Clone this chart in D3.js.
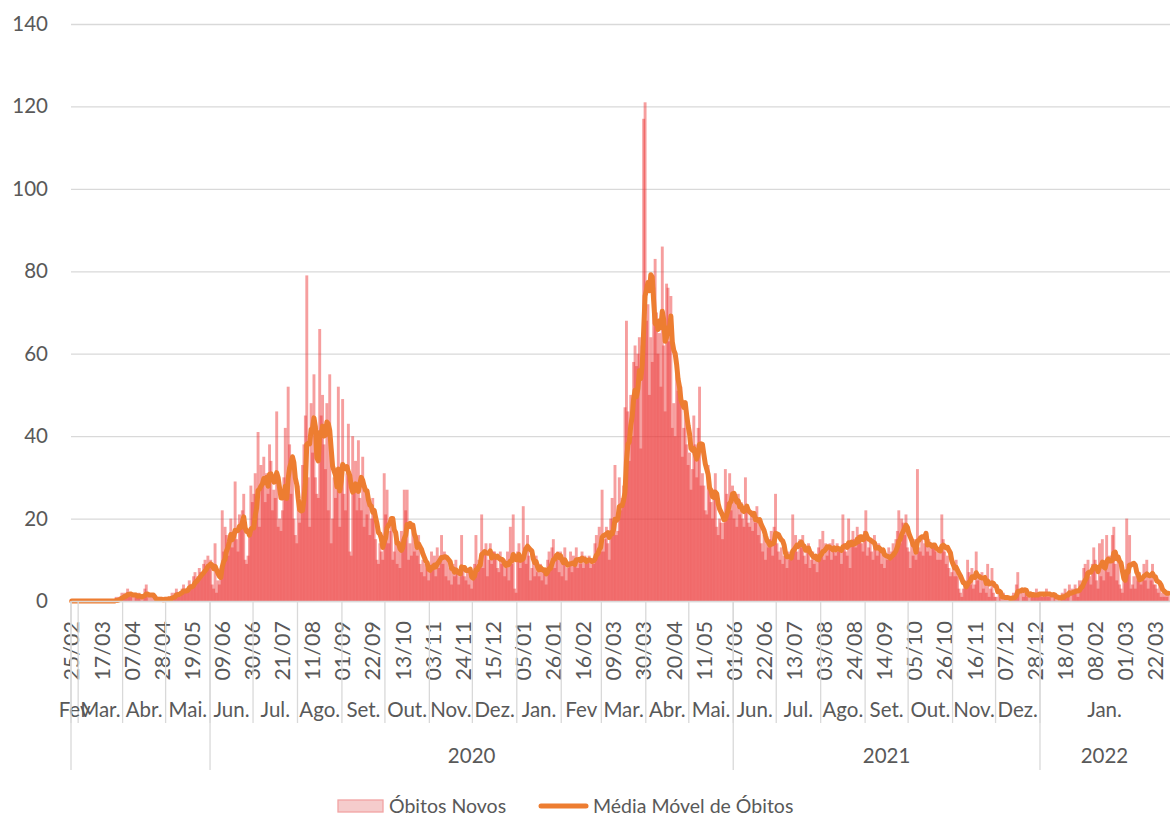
<!DOCTYPE html>
<html lang="pt">
<head>
<meta charset="UTF-8">
<title>Óbitos Novos e Média Móvel de Óbitos</title>
<script src="https://cdn.jsdelivr.net/npm/d3@7"></script>
<style>
  body { margin: 0; background: #fff; }
  svg text { font-family: Lato, "Open Sans", sans-serif; fill: #595959; }
</style>
</head>
<body>
<svg id="chart" width="1170" height="817"></svg>
<script>
// dados diários a partir de 25/02/2020
const inicio = "2020-02-25";
const obitosNovos = [
  0,0,0,0,0,                                                                      // fev/20
  0,0,0,0,0,0,0,0,0,0,0,0,0,0,0,0,0,0,0,0,0,0,0,0,0,0,1,0,1,1,2,                  // mar/20
  1,2,1,3,1,2,1,0,2,1,1,2,1,0,1,3,4,1,0,1,0,1,0,0,1,0,1,0,0,1,                    // abr/20
  0,1,1,0,2,1,2,3,2,1,2,3,4,2,3,3,5,4,3,6,7,5,6,8,7,6,9,10,8,11,9,                // mai/20
  10,4,3,14,2,5,4,8,22,12,18,16,11,14,20,13,17,29,15,12,21,18,22,26,10,9,11,16,28,24,
  26,31,22,41,18,33,28,35,24,31,26,38,34,22,27,25,46,18,20,17,22,30,42,25,52,38,26,32,20,16,14,
  28,19,24,33,38,45,79,30,18,48,36,55,30,26,25,66,45,50,38,32,48,22,55,14,20,30,25,28,52,18,30,
  49,26,22,31,43,12,11,40,28,34,22,39,25,22,35,18,27,21,24,16,20,25,21,15,10,9,14,12,10,31,
  21,27,14,17,20,10,12,16,9,14,8,17,15,27,22,27,10,14,11,18,12,15,11,16,9,7,10,6,9,8,5,
  7,12,9,11,6,13,8,11,16,9,12,6,11,5,8,4,9,6,10,7,4,6,16,8,6,5,7,4,8,3,
  6,9,16,7,10,10,21,8,12,14,6,10,14,9,12,12,11,8,7,12,9,10,6,8,12,5,18,9,21,3,2,  // dez/20
  12,14,8,10,23,13,9,16,11,5,8,10,6,11,7,6,9,5,8,7,4,10,12,9,13,15,8,10,12,7,12,  // jan/21
  6,10,13,5,8,9,12,7,11,10,13,8,10,9,12,8,11,9,10,11,8,10,9,14,16,12,18,12,
  27,12,15,18,14,10,20,25,19,33,16,17,30,22,25,28,47,68,46,34,50,40,58,62,57,60,64,37,62,117,121,
  68,72,50,64,58,76,83,70,60,65,52,86,62,46,77,76,63,74,42,48,40,59,51,50,52,35,42,48,38,33,
  36,27,32,45,38,30,42,52,28,31,28,22,21,33,29,24,20,27,31,18,16,20,19,15,19,32,26,24,31,22,28,
  20,25,18,26,21,24,20,18,30,22,19,18,22,17,21,19,23,16,20,14,12,16,10,15,13,15,17,11,18,26,
  14,12,10,13,9,11,12,8,12,10,11,21,13,16,12,10,15,13,16,11,9,12,14,8,10,12,9,11,7,13,15,
  12,17,10,14,11,13,14,10,15,13,11,14,12,12,9,21,14,12,11,20,8,14,17,15,13,18,16,16,14,12,17,
  22,11,13,15,12,10,16,13,11,14,12,9,12,8,11,10,13,10,12,14,11,15,17,22,14,20,19,16,21,13,
  12,8,14,11,15,10,32,13,12,16,11,14,17,12,15,11,13,13,14,12,10,13,10,21,15,12,9,11,8,6,7,
  9,6,10,6,3,2,1,3,5,4,10,7,4,8,3,4,12,5,6,2,7,3,5,2,9,1,3,8,2,1,
  1,0,2,1,0,2,0,1,0,1,0,1,2,1,4,7,2,0,3,1,2,3,1,0,2,1,2,1,3,1,2,                  // dez/21
  2,1,1,2,3,1,2,1,0,2,1,0,1,0,1,2,1,3,2,1,4,0,3,2,4,3,1,5,4,5,8,                  // jan/22
  9,7,10,6,4,9,13,10,5,3,14,6,15,5,8,16,7,11,6,16,18,9,5,10,4,3,2,5,
  6,20,9,16,3,4,6,3,8,5,7,4,6,9,5,10,3,6,5,9,4,4,3,2,4,1,2,1,2,1,2                 // mar/22
];

// rótulos do eixo (como na planilha original)
const mesRotulos = ["Fev","Mar.","Abr.","Mai.","Jun.","Jul.","Ago.","Set.","Out.","Nov.","Dez.",
                    "Jan.","Fev","Mar.","Abr.","Mai.","Jun.","Jul.","Ago.","Set.","Out.","Nov.","Dez.","Jan."];
const mesInicio = ["2020-02-25","2020-03-01","2020-04-01","2020-05-01","2020-06-01","2020-07-01",
                   "2020-08-01","2020-09-01","2020-10-01","2020-11-01","2020-12-01","2021-01-01",
                   "2021-02-01","2021-03-01","2021-04-01","2021-05-01","2021-06-01","2021-07-01",
                   "2021-08-01","2021-09-01","2021-10-01","2021-11-01","2021-12-01","2022-01-01"];
const anoRotulos = ["", "2020", "2021", "2022"];
const anoInicio = ["2020-02-25", "2020-06-01", "2021-06-01", "2022-01-01"];
const yTicks = [0, 20, 40, 60, 80, 100, 120, 140];
const series = ["Óbitos Novos", "Média Móvel de Óbitos"];

const parse = d3.timeParse("%Y-%m-%d");
const t0 = parse(inicio);
const datas = obitosNovos.map((d, i) => d3.timeDay.offset(t0, i));
const idx = s => d3.timeDay.count(t0, parse(s));
const fmt = d3.timeFormat("%d/%m");

// média móvel de 7 dias
const mediaMovel = obitosNovos.map((d, i) => d3.mean(obitosNovos.slice(Math.max(0, i - 6), i + 1)));

const svg = d3.select("#chart");
const mLeft = 71, mRight = 1169, mTop = 24, mBottom = 601;

const x = d3.scaleBand().domain(d3.range(obitosNovos.length)).range([mLeft, mRight]);
const y = d3.scaleLinear().domain([0, 140]).range([mBottom, mTop]);
const bw = x.bandwidth();

// grade + eixo y
const gy = svg.append("g").attr("transform", `translate(${mLeft},0)`)
  .call(d3.axisLeft(y).tickValues(yTicks).tickSize(-(mRight - mLeft + 1)).tickPadding(23));
gy.select(".domain").remove();
gy.selectAll("line").attr("stroke", "#d9d9d9").attr("stroke-width", 1.3);
gy.selectAll("text").attr("font-size", 20.5).attr("fill", "#595959");

// barras
svg.append("g").selectAll("rect").data(obitosNovos).join("rect")
  .attr("x", (d, i) => x(i) + bw / 2 - 1.45)
  .attr("width", 2.9)
  .attr("y", d => y(d))
  .attr("height", d => y(0) - y(d))
  .attr("fill", "#ec3434")
  .attr("fill-opacity", 0.48);

// média móvel
svg.append("path").datum(mediaMovel)
  .attr("d", d3.line().x((d, i) => x(i) + bw / 2).y(d => y(d)))
  .attr("fill", "none")
  .attr("stroke", "#ED7D31")
  .attr("stroke-width", 5)
  .attr("stroke-linejoin", "round")
  .attr("stroke-linecap", "round");

// eixo x: datas a cada 21 dias
const gx = svg.append("g").attr("transform", `translate(0,${mBottom})`)
  .call(d3.axisBottom(x).tickValues(d3.range(0, obitosNovos.length, 21))
    .tickFormat(i => fmt(datas[i])).tickSize(0).tickSizeOuter(0));
gx.select(".domain").attr("stroke", "#d9d9d9").attr("stroke-width", 1.3);
gx.selectAll("text")
  .attr("transform", "rotate(-90)")
  .attr("text-anchor", "end")
  .attr("x", -20).attr("y", 0).attr("dy", "0.36em")
  .attr("font-size", 21.5);

// separadores e rótulos de mês
const mesIdx = mesInicio.map(idx);
const linhaX = i => x(i) !== undefined ? x(i) : mRight;
svg.append("g").selectAll("line").data(mesIdx).join("line")
  .attr("x1", linhaX).attr("x2", linhaX)
  .attr("y1", mBottom).attr("y2", 723)
  .attr("stroke", "#d9d9d9").attr("stroke-width", 1.3);
svg.append("g").selectAll("text").data(mesRotulos).join("text")
  .attr("x", (d, k) => (linhaX(mesIdx[k]) + (k + 1 < mesIdx.length ? linhaX(mesIdx[k + 1]) : mRight)) / 2)
  .attr("y", 717)
  .attr("text-anchor", "middle")
  .attr("font-size", 20.5)
  .text(d => d);

// separadores e rótulos de ano
const anoIdx = anoInicio.map(idx);
svg.append("g").selectAll("line").data(anoIdx).join("line")
  .attr("x1", linhaX).attr("x2", linhaX)
  .attr("y1", mBottom).attr("y2", 770)
  .attr("stroke", "#d9d9d9").attr("stroke-width", 1.3);
svg.append("g").selectAll("text").data(anoRotulos).join("text")
  .attr("x", (d, k) => (linhaX(anoIdx[k]) + (k + 1 < anoIdx.length ? linhaX(anoIdx[k + 1]) : mRight)) / 2)
  .attr("y", 763)
  .attr("text-anchor", "middle")
  .attr("font-size", 20.5)
  .text(d => d);

// legenda
const leg = svg.append("g");
leg.append("rect").attr("x", 338).attr("y", 800).attr("width", 45).attr("height", 12)
  .attr("fill", "#f5cccc").attr("stroke", "#f2a3a3").attr("stroke-width", 1.3);
leg.append("text").attr("x", 389).attr("y", 813).attr("font-size", 19.5).text(series[0]);
leg.append("line").attr("x1", 541).attr("x2", 586).attr("y1", 806).attr("y2", 806)
  .attr("stroke", "#ED7D31").attr("stroke-width", 5).attr("stroke-linecap", "round");
leg.append("text").attr("x", 593).attr("y", 813).attr("font-size", 19.5).text(series[1]);
</script>
</body>
</html>
